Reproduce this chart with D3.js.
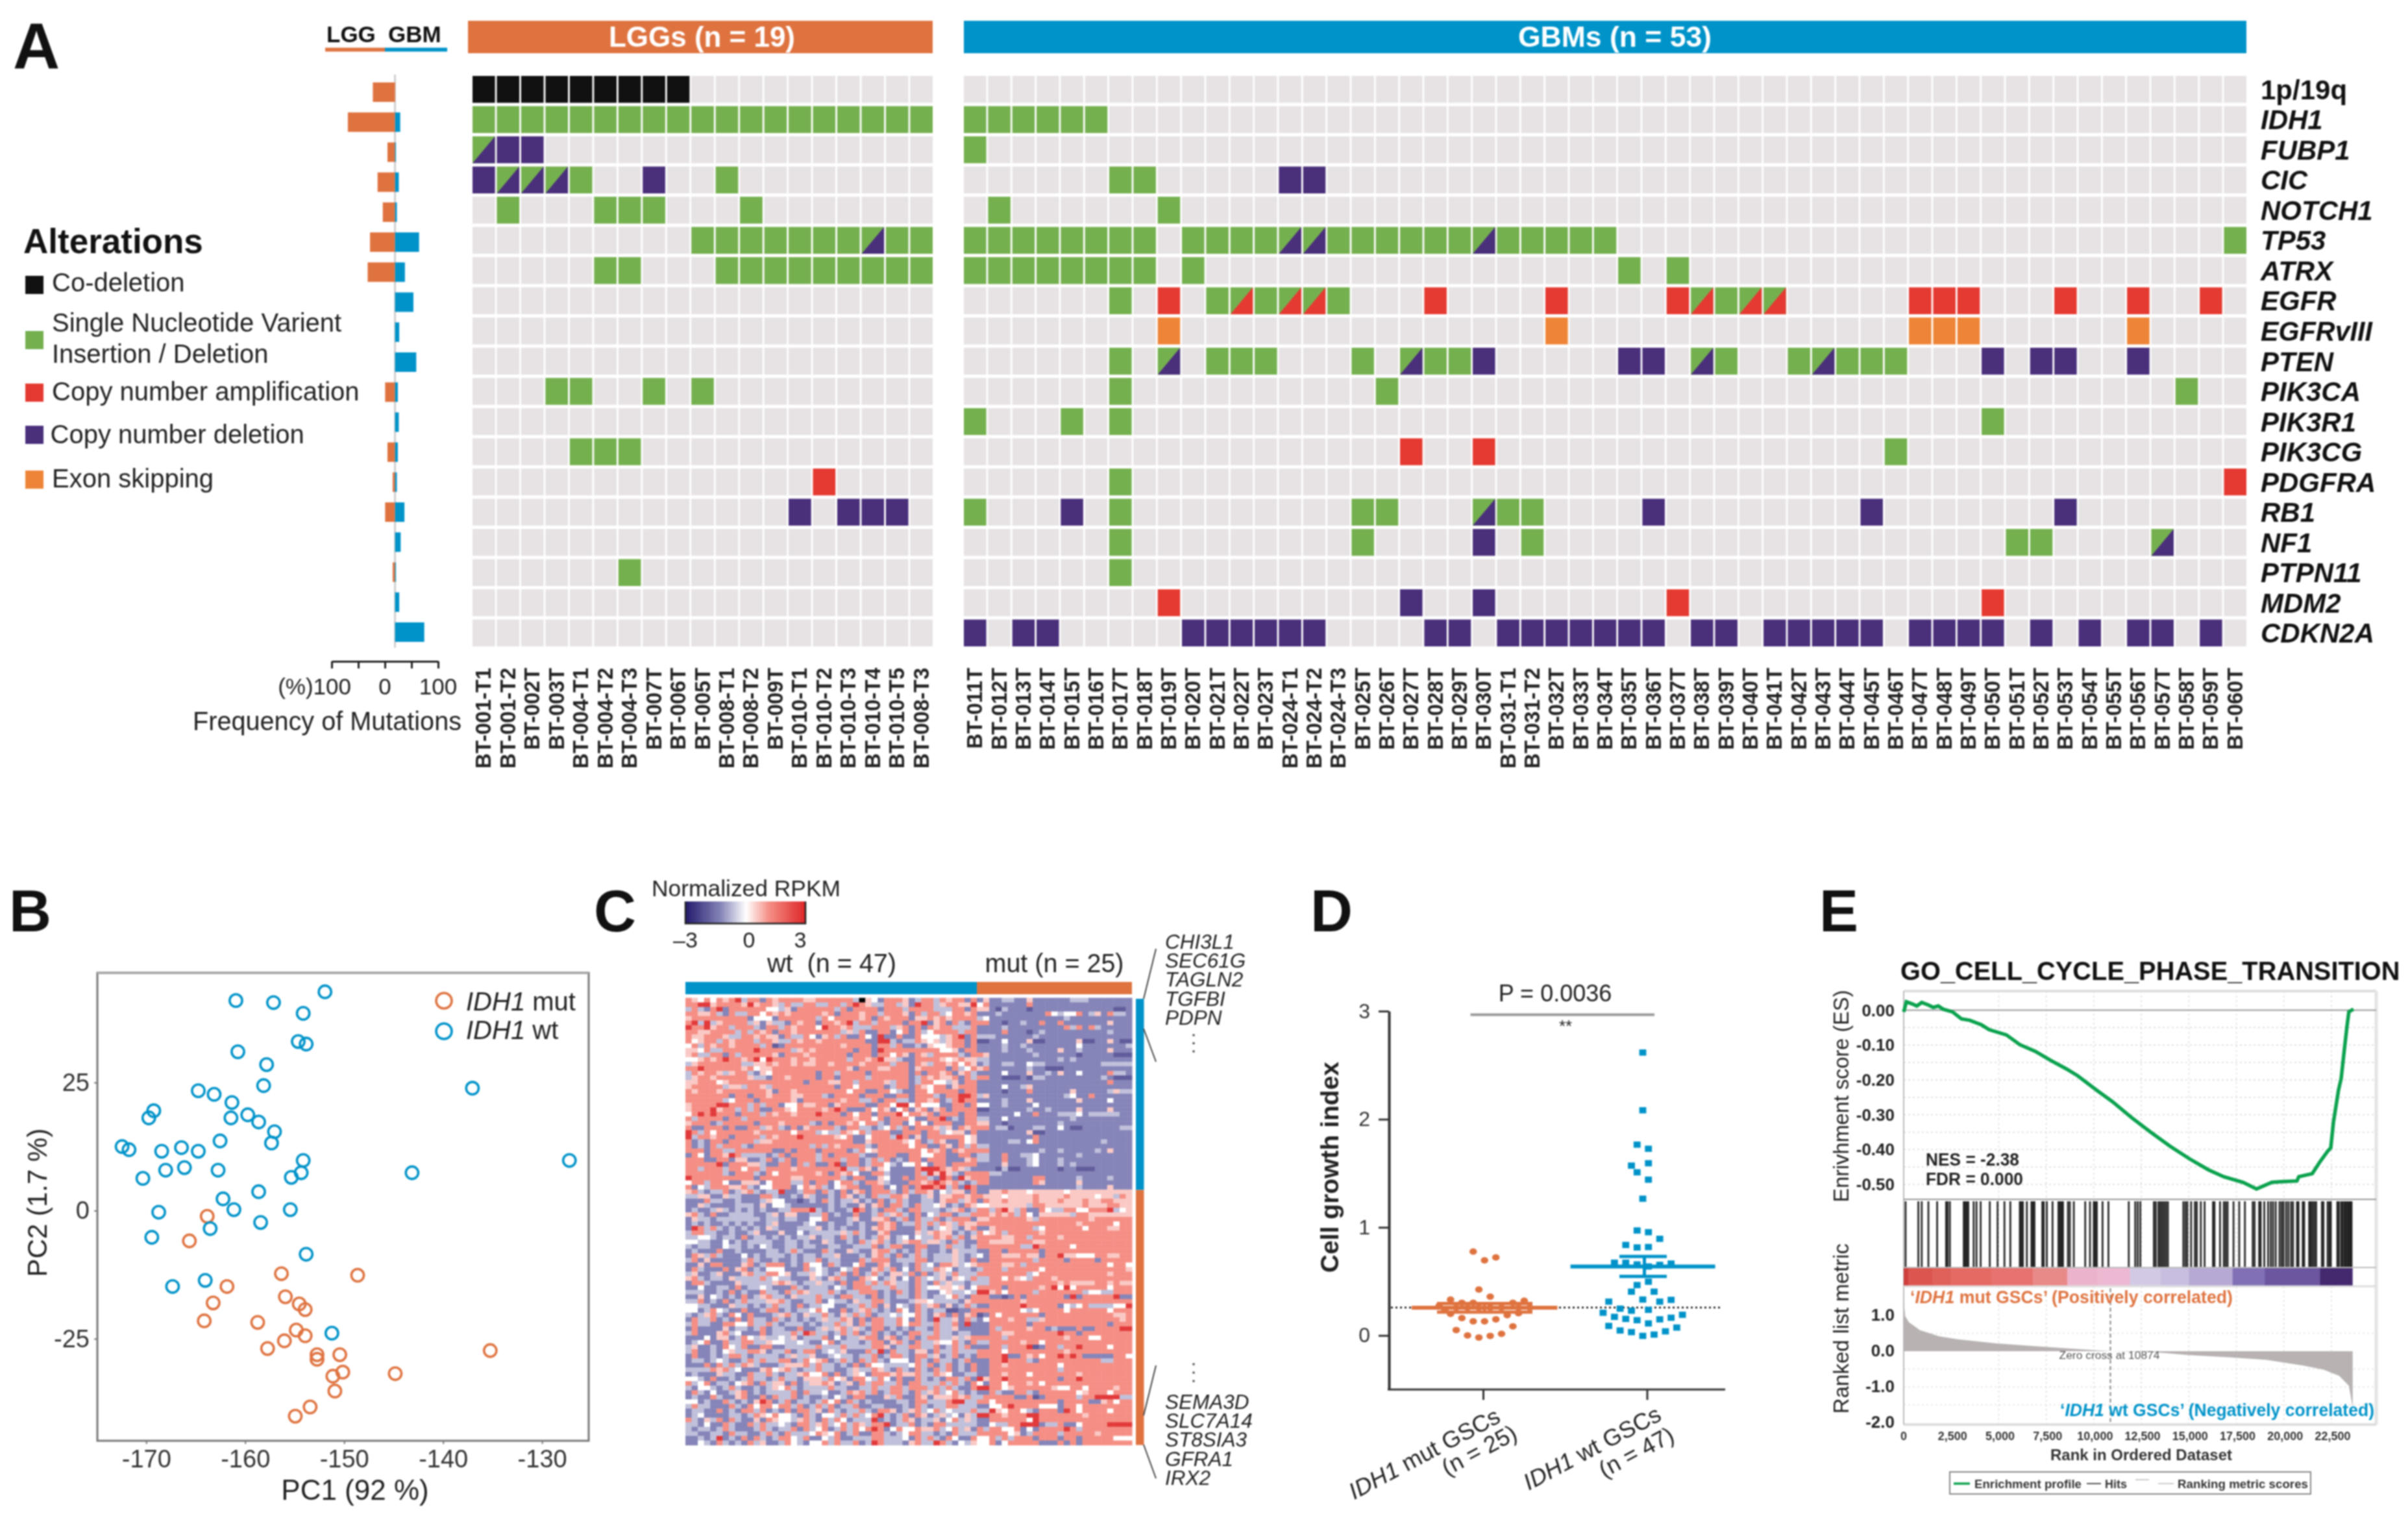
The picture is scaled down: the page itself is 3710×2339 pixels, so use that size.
<!DOCTYPE html>
<html><head><meta charset="utf-8">
<script src="https://cdn.jsdelivr.net/npm/d3@7/dist/d3.min.js"></script>
<style>html,body{margin:0;padding:0;background:#fff}svg{display:block;filter:blur(1px)}text{font-family:"Liberation Sans",Arial,sans-serif;fill:#222}</style>
</head><body><script>
// ---------- Panel A data ----------
const genes=["1p/19q","IDH1","FUBP1","CIC","NOTCH1","TP53","ATRX","EGFR","EGFRvIII","PTEN","PIK3CA","PIK3R1","PIK3CG","PDGFRA","RB1","NF1","PTPN11","MDM2","CDKN2A"];
const lggSamples=["BT-001-T1","BT-001-T2","BT-002T","BT-003T","BT-004-T1","BT-004-T2","BT-004-T3","BT-007T","BT-006T","BT-005T","BT-008-T1","BT-008-T2","BT-009T","BT-010-T1","BT-010-T2","BT-010-T3","BT-010-T4","BT-010-T5","BT-008-T3"];
const gbmSamples=["BT-011T","BT-012T","BT-013T","BT-014T","BT-015T","BT-016T","BT-017T","BT-018T","BT-019T","BT-020T","BT-021T","BT-022T","BT-023T","BT-024-T1","BT-024-T2","BT-024-T3","BT-025T","BT-026T","BT-027T","BT-028T","BT-029T","BT-030T","BT-031-T1","BT-031-T2","BT-032T","BT-033T","BT-034T","BT-035T","BT-036T","BT-037T","BT-038T","BT-039T","BT-040T","BT-041T","BT-042T","BT-043T","BT-044T","BT-045T","BT-046T","BT-047T","BT-048T","BT-049T","BT-050T","BT-051T","BT-052T","BT-053T","BT-054T","BT-055T","BT-056T","BT-057T","BT-058T","BT-059T","BT-060T"];
// B co-deletion, S SNV/indel, A amplification, D deletion, E exon skipping, G SNV+deletion, R SNV+amplification
const lggAlterations=[
"BBBBBBBBB..........","SSSSSSSSSSSSSSSSSSS","GDD................","DGGGS..D..S........",".S...SSS...S.......",".........SSSSSSSGSS",".....SS...SSSSSSSSS","...................","...................","...................","...SS..S.S.........","...................","....SSS............","..............A....",".............D.DDD.","...................","......S............","...................","..................."];
const gbmAlterations=[
".....................................................",
"SSSSSS...............................................",
"S....................................................",
"......SS.....DD......................................",
".S......S............................................",
"SSSSSSSS.SSSSGGSSSSSSGSSSSS.........................S",
"SSSSSSSS.S.................S.S.......................",
"......S.A.SRSRRS...A....A....ARSRR.....AAA...A..A..A.",
"........E...............E..............EEE......E.....",
"......S.G.SSS...S.GSSD.....DD.GS..SGSSS...D.DD..D....",
"......S..........S................................S..",
"S...S.S...................................S..........",
"..................A..A................S..............",
"......S.............................................A",
"S...D.S.........SS...GSS....D........D.......D.......",
"......S.........S....D.S...................SS....G...",
"......S..............................................",
"........A.........D..D.......A............A..........",
"D.DD.....DDDDDD....DD.DDDDDDD.DD.DDDDD.DDDD.D.D.DD.D."];
const freqLGG=[47,100,16,37,26,53,58,0,0,0,21,0,16,5,21,0,5,0,0];
const freqGBM=[0,11,2,8,4,51,21,39,9,45,6,8,6,4,20,12,2,9,62];
const freqTicks=[-100,-50,0,50,100];
const legendItems=[["Co-deletion","#111111"],["Single Nucleotide Varient|Insertion / Deletion","#75B04F"],["Copy number amplification","#E53A32"],["Copy number deletion","#4A2F7B"],["Exon skipping","#EE8437"]];
// ---------- Panel B data (PC1, PC2) ----------
const pcaWt=[[-161.2,41],[-157.4,40.6],[-152.2,42.7],[-154.4,38.5],[-154.9,33],[-154.1,32.5],[-161,31],[-158.1,28.5],[-158.4,24.4],[-165,23.4],[-163.4,22.7],[-161.6,21.1],[-169.5,19.5],[-170,18.1],[-161.7,18.1],[-160,18.7],[-158.9,17.3],[-157.3,15.4],[-157.6,13.2],[-162.8,13.6],[-172.7,12.5],[-172,11.9],[-168.7,11.6],[-166.7,12.3],[-165,11.6],[-168.3,7.9],[-166.4,8.4],[-163,7.9],[-170.6,6.3],[-154.4,9.8],[-154.6,7.4],[-155.6,6.5],[-158.9,3.7],[-162.5,2.3],[-161.4,0.2],[-155.7,0.2],[-169,-0.3],[-158.7,-2.3],[-163.8,-3.5],[-169.7,-5.2],[-154.1,-8.5],[-164.3,-13.6],[-167.6,-14.8],[-151.5,-23.9],[-137.3,23.9],[-143.4,7.4],[-127.5,9.8]];
const pcaMut=[[-164.1,-1.1],[-165.9,-5.9],[-156.6,-12.3],[-148.9,-12.6],[-162.1,-14.8],[-156.2,-16.8],[-163.5,-18],[-154.8,-18.2],[-154.2,-19.3],[-164.4,-21.5],[-159,-21.8],[-155.1,-23.3],[-154.2,-24.4],[-156.3,-25.4],[-158,-26.9],[-153,-28.1],[-153,-29],[-150.7,-28.1],[-150.4,-31.5],[-151.4,-32.3],[-145.1,-31.8],[-135.5,-27.3],[-151.2,-35.2],[-153.7,-38.3],[-155.2,-40.1]];
// ---------- Panel C data ----------
// Hand estimates: quadrants and visible stripes follow the reference, single cells are approximate.
// Each character is a colour level, see heatLevels.
const heatLevels=[-1.9,-1.25,-0.65,0,0.55,1.15,2.6];
const heatTopLeft=[
"54353545625515455554455555528431555412552545515",
"55664555546455425225522552565422552416552455446",
"25215615555553324155555525155551555255552225515",
"55445215225535454555554515554552555415255235545",
"45555555551333155555525355554515455514454545555",
"56262455552414221545515545625525555155614515215",
"65564552555215525455536554522255524515154552225",
"55445555252545155455555552425115513515235555255",
"54455542255454415225314525115316115115333245615",
"53455254555255422545545555555116621225434245515",
"35254554555525015555555554555515525112143345515",
"44352255555655555245455555515516555555555334155",
"45225515255555415554555555155515535415425555215",
"33454565545636555455455555255456442115555434544",
"24555555522445455454455455554555525515425545354",
"55655555545344555555555555415554455514555515235",
"25455424552143555555515525555155555515155451452",
"24554555554221554555515515555255555512545445152",
"44555345555555555551555445525555425512553324155",
"45555524425542555555555515535555125515435514555",
"54555455555554155455555555355115532115535555155",
"55555551551554555445552155551555115515552155665",
"55555523555155555415555554552251552215545125655",
"45555665552525513354455145555115536635333115515",
"45556455252511554355554565111535413514514515555",
"35656555155525455455565551535515556355451555155",
"52555515525555555555555555545535155531155612155",
"45551255555155545555215155453552155135315551155",
"51155515115524521514555521552212352515554241545",
"65253555555455555355523225435255511555155234415",
"62554551555525455565555543511355526514155555534",
"51215515555244555555555555511455555435125411534",
"51215255521555555555252545555215555535511541525",
"55515522555555115155515555125345555555354515455",
"15315546522221251555525155552115551155335511551",
"55511551441125125155525552551252512155155511145",
"55555615554421155152511561551255321335315515555",
"55255525535525555455555556225414311115666545421",
"55555521555215355555545154531155211115264642155",
"65555555555155555445555552155114311515521651645",
"35525531144413555225155135521554211155456545212",
"51325554452133555135452134551155131515665625165"];
const heatBottomLeft=[
"45212251245212261125515215145155521525541324415",
"22441142211155211214211215412152255411241445545",
"11152211211124331101215212241215125211221455245",
"11421111222141332111111212114145155215223412154",
"12112421212121122555621211265121552155222124512",
"45215112222112414411225121151125245215132551225",
"14221222222212212211335111241144512515225125551",
"12121121212112411112311211212115451225252542544",
"16525212121214211122241212112145451115212342145",
"25522112112411141131222224252114511114245441212",
"22332122151221212122412215212125412313225452514",
"33221131212222112212114211215245212455244215211",
"21221132212132112212211221122251255115511252212",
"12111511211112212521115211421145521215211214222",
"15425211131212221212212241112145215125212224212",
"25141111125211211212251221115255512225512224215",
"11415511145125551215331521135115411215231554234",
"15211151451213331115232113251145251315225431221",
"24112411145225534122432125151252144251512425222",
"45212214222252322111421452115431241315232414325",
"15521111422222454212242215155252542215215242212",
"11311221512232111521222132155522252215233443413",
"22211215121152215254222521225551215215211342232",
"11413212151245221422252215522151212215212235215",
"22512151252224452112251322142255211124432222145",
"33221114221212522151223311225251413215245141252",
"33125321151125512122353115124521215315212200115",
"21245215315111245214225214252512232335214515145",
"15225121515221521212124225415155225315216224152",
"25221155335225212221212252415255225355225225161",
"15111141221251221151124245242155121212215224111",
"25111452311151222526522125251251212155225221221",
"11131441253242232412225131224551451251255224245",
"12351152255224332232113512221255145215224335215",
"24112153251155112222252225222255412255225125251",
"25112134225541225125512324111526152214415225222",
"15112125521222212422411232212251255215524125121",
"12212321125252255125345125215252133315215221251",
"11151525254211124445252212151533222235251251215",
"22225452311145345212252211242254215215215251215",
"12111422115225212245335151243155545445225431122",
"33215112125221252214442534155325315115212155251",
"52351221345152441512445412415255225155222525215",
"21332125211212435212222522112252255255525252115",
"15213112451212222515223112545251255215245235212",
"12115211451151522512112132155111425115414445452",
"33121152121465125122125351521211112215522256622",
"25221115215355355251252512251122111215212255222",
"12211512155251215155241521225215541245235232225",
"12311112212543533215213325252356212515412423142",
"52142515211415433245215253122261212541224135242",
"22131152115252232155245235254255612251215522222",
"21221252111252122515235125253565135335445235241",
"22112215221125215222354351251155212355221215222",
"11212612151521255325113251122255222315252153115",
"11321521215241125321335252251265222145226521324"];
const heatTopRight=[
"1411221141111112221111111","3511111151111111111111111","4410211101111111111111001","1112111111153233512415221",
"2311111111111121111111111","5511011211511511111114111","1111211111111152515211111","1111511101211111111112111",
"2221111112111111111111111","0011311140011111400114100","1111211211111111311111112","1111211121111411211114111",
"5411111112111111011111000","2211111111111212111111111","1211221132211111111122222","4511111121100011111111111",
"1111311141121411311115221","5511000102211111111121000","1111111111111111111115111","1111311241111111111111111",
"1111011151111114111112422","2411111111111123115111111","1111211141111111411113111","3311211113111111111111111",
"0011111121121111411114111","1111113115111222312222211","2211311111111112111111111","4411011111111211111111111",
"5512201112211310011111122","1111111140011111111111111","1111111115111111111111111","1111122135111111111121111",
"2211111111111111111111111","5511111111211211111214111","2211511223111111211111111","2211511123111211111111111",
"1111411123111212111111111","1110200111111011000111111","5522111111111111111111111","5511111115511111211112111",
"5511111115411111411111111","1111111111111111211114111"];
const heatBottomRight=[
"1144544434444434444444444","5444344445444454444344254","1544544445444544454455444","3344444425544444454445544",
"5525642511532255335556234","5545452531444442554444444","4455555542555555554555555","5555555555555555455555355",
"1145555552355555535554455","5345255555455555555555555","5555445525555455555555555","5544445554455555555555555",
"5555555226555553555555555","1155155555155555555555555","3155444544155644333554455","1155555552555515555155555",
"5555445255555555555553553","2555255555355555555555554","5555555523555555555554555","2255354325554555555555555",
"2255555555555454444554544","5555155555456363555553555","6645355552555555523322555","5511015155555516155555611",
"5555555455555555555555555","1155555655555132352222336","5555555323555535555553555","0153555555155555555555445",
"1355545522455555555555545","1155555515555555555551555","1152555545512111511555566","1155445555555655155555555",
"5555255555555545553355555","2255555455355555555555555","1155255560155255655553555","5555355555555545555555555",
"5555611545355656511111553","1155655521555555555522555","1155455555555355555555555","1155555555555255555555555",
"1155455535555555455555555","6455655555555155655555555","3155355545355555555555555","6655345555554335535555455",
"1152115521555555345553555","2555551150155555255666622","5535555555555155551145355","1133565555333155355555555",
"2264355321555165355553555","6655455566555555545555555","1155555536555555555555555","1132255666122511355556666",
"5255335131555565255555555","5555534125555255555455555","3352525551555155155555333","3351355555111515155555555"];
const genesTop=["CHI3L1","SEC61G","TAGLN2","TGFBI","PDPN"];
const genesBottom=["SEMA3D","SLC7A14","ST8SIA3","GFRA1","IRX2"];
// ---------- Panel D data: [swarm column, growth index] ----------
const growthMut=[[-1,.776],[1,.695],[3,.722],[0,.424],[2,.359],[-5,.332],[-3,.302],[-1,.302],[6,.302],[8,.321],[-7,.275],[-6,.237],[-4,.256],[-2,.256],[0,.256],[2,.256],[4,.256],[7,.256],[9,.256],[-5,.199],[5,.187],[7,.206],[-3,.16],[-1,.13],[1,.13],[3,.149],[6,.084],[-4,.05],[-2,0],[0,-.019],[2,-.004],[4,.015]];
const growthWt=[[0,2.617],[0,2.083],[-1,1.765],[1,1.727],[1,1.593],[-2,1.571],[-1,1.509],[1,1.441],[0,1.265],[-1,.971],[1,.955],[3,.894],[-3,.837],[-1,.814],[1,.818],[-5,.673],[-3,.673],[-1,.657],[3,.653],[5,.665],[1,.638],[-1,.466],[1,.497],[-2,.405],[2,.405],[-6,.313],[0,.332],[3,.313],[5,.329],[-4,.248],[-2,.229],[1,.237],[-7,.21],[-5,.172],[-3,.153],[-1,.141],[3,.149],[5,.164],[7,.191],[1,.111],[-6,.088],[-4,.046],[-2,.031],[6,.073],[4,.038],[0,-.004],[2,.008]];
const growthSummary=[{mean:.256,sem:.04},{mean:.638,sem:.092}];
const growthRef=.258;
// ---------- Panel E data ----------
const esCurve=[[0,-.005],[142,.024],[445,.018],[688,.012],[951,.022],[1295,.015],[1559,.008],[1822,.012],[2064,.003],[2570,-.005],[3036,-.025],[3481,-.029],[4088,-.042],[4493,-.056],[5404,-.071],[6112,-.099],[6922,-.118],[7732,-.144],[8541,-.168],[9148,-.188],[10160,-.23],[10970,-.262],[11982,-.308],[12994,-.35],[14006,-.39],[15018,-.426],[16030,-.458],[16840,-.478],[17852,-.494],[18560,-.513],[19370,-.494],[19876,-.492],[20685,-.49],[20786,-.478],[21495,-.469],[21900,-.435],[22300,-.405],[22466,-.395],[22608,-.321],[22871,-.23],[23013,-.196],[23175,-.116],[23316,-.048],[23417,-.005],[23660,.003]];
const hits=[100,770,950,1300,1760,2230,2310,2430,3160,3240,3320,3400,3680,3830,4050,4530,4940,5300,5610,6110,6190,6270,6480,6720,6800,6880,7290,7370,7530,7830,8140,8220,8300,8380,8640,8740,8950,9550,9800,10000,10080,10160,10460,10770,11840,12180,12310,12450,13160,13260,13400,13500,13600,13700,13800,13900,14710,14820,14920,15120,15320,15420,15630,15830,16270,16350,16640,16840,16940,17040,17350,17650,17950,18360,18460,18700,18780,18970,19170,19310,19430,19570,19770,19880,19980,20120,20240,20380,20480,20690,20770,20990,21070,21330,21410,21500,21600,21700,22000,22080,22300,22390,22470,22810,22890,23010,23090,23180,23260,23340,23420,23500,23560];
const metric=[[0,1.42],[80,.98],[280,.81],[850,.59],[1860,.42],[2870,.33],[4900,.22],[6920,.14],[8950,.07],[10874,0],[12990,-.02],[15020,-.11],[17040,-.17],[19070,-.24],[21090,-.41],[22100,-.52],[22910,-.69],[23420,-.97],[23620,-1.58]];
const rampBands=[[0,250,"#CF3F3D"],[250,1500,"#DC5650"],[1500,2500,"#E0605A"],[2500,4600,"#E46A63"],[4600,6800,"#E67370"],[6800,8600,"#E88A88"],[8600,10200,"#ECB4CC"],[10200,11900,"#EDB9D2"],[11900,13500,"#D2CAE4"],[13500,15000,"#C8BFE0"],[15000,17300,"#B6AAD4"],[17300,19000,"#8170B5"],[19000,21900,"#6B569F"],[21900,23600,"#44296F"]];
const rankTicks=[0,2500,5000,7500,10000,12500,15000,17500,20000,22500];
const esTicks=[0,-.1,-.2,-.3,-.4,-.5];
const metricTicks=[1,0,-1,-2];

// ---------- Drawing ----------
const ORANGE="#DF7340",BLUE="#0093C9",CELL="#E7E3E5",GREEN="#75B04F",PURPLE="#4A2F7B",RED="#E53A32";
const colorOf={B:"#111111",S:GREEN,A:RED,D:PURPLE,E:"#EE8437",G:GREEN,R:GREEN};
const svg=d3.select("body").append("svg").attr("width",3710).attr("height",2339).attr("viewBox","0 0 3710 2339");
function label(parent,x,y,parts,size,o={}){
  const el=parent.append("text").attr("x",x).attr("y",y).attr("font-size",size).attr("text-anchor",o.anchor||"start")
    .attr("font-weight",o.weight||"normal").attr("font-style",o.style||"normal").style("fill",o.fill||"#222");
  if(o.rotate!==undefined) el.attr("transform",`rotate(${o.rotate},${x},${y})`);
  if(o.textLength) el.attr("textLength",o.textLength).attr("lengthAdjust","spacingAndGlyphs");
  (Array.isArray(parts)?parts:[parts]).forEach(p=>{
    if(typeof p==="string") el.append("tspan").attr("xml:space","preserve").text(p);
    else el.append("tspan").attr("font-style",p.style).text(p.text);
  });
  return el;
}
// Panel letters
[["A",20,106,100],["B",14,1435,90],["C",915,1435,90],["D",2019,1435,90],["E",2803,1435,90]].forEach(d=>label(svg,d[1],d[2],d[0],d[3],{weight:"bold",fill:"#111"}));

// ----- A -----
const A=svg.append("g");
const yGene=d3.scaleBand().domain(genes).range([117,996]).paddingInner(.11);
function oncoplot(samples,alts,x0,x1,title,color){
  const x=d3.scaleBand().domain(samples).range([x0,x1]).paddingInner(.075);
  const g=A.append("g");
  g.append("rect").attr("x",x0-(title[0]==="L"?7:0)).attr("y",32).attr("width",x1-x0+(title[0]==="L"?7:0)).attr("height",50).attr("fill",color);
  label(g,(x0+x1)/2-(title[0]==="L"?1:-15),72,title,45,{anchor:"middle",weight:"bold",fill:"#fff",textLength:title[0]==="L"?287:298});
  genes.forEach((gene,r)=>{
    samples.forEach((s,c)=>{
      const k=alts[r][c];
      const px=x(s),py=yGene(gene),w=x.bandwidth(),h=yGene.bandwidth();
      g.append("rect").attr("x",px).attr("y",py).attr("width",w).attr("height",h).attr("fill",k==="."?CELL:colorOf[k]);
      if(k==="G"||k==="R") g.append("path").attr("d",`M${px+w},${py}L${px+w},${py+h}L${px},${py+h}Z`).attr("fill",k==="G"?PURPLE:RED);
    });
  });
  samples.forEach(s=>{
    const cx=x(s)+x.bandwidth()/2+11;
    label(g,cx,1029,s,32.5,{anchor:"end",rotate:-90,weight:"bold"});
  });
}
oncoplot(lggSamples,lggAlterations,728,1437,"LGGs (n = 19)",ORANGE);
oncoplot(gbmSamples,gbmAlterations,1485,3461,"GBMs (n = 53)",BLUE);
genes.forEach(g=>label(A,3483,yGene(g)+yGene.bandwidth()/2+15,g,42,{weight:"bold",style:g==="1p/19q"?"normal":"italic",fill:"#111",textLength:g==="EGFRvIII"?172:undefined}));
// frequency bars
const xFreq=d3.scaleLinear().domain([-100,100]).range([608.6-72.7,608.6+72.7]);
const yFreq=d3.scalePoint().domain(genes).range([142,974]);
A.append("line").attr("x1",608.6).attr("x2",608.6).attr("y1",115).attr("y2",998).attr("stroke","#cfcfcf").attr("stroke-width",3);
genes.forEach((g,i)=>{
  if(freqLGG[i]) A.append("rect").attr("x",xFreq(-freqLGG[i])).attr("y",yFreq(g)-15).attr("width",xFreq(0)-xFreq(-freqLGG[i])).attr("height",30).attr("fill",ORANGE);
  if(freqGBM[i]) A.append("rect").attr("x",xFreq(0)).attr("y",yFreq(g)-15).attr("width",xFreq(freqGBM[i])-xFreq(0)).attr("height",30).attr("fill",BLUE);
});
const xFreqAxis=d3.scaleLinear().domain([-100,100]).range([511,675]);
const axF=A.append("g").attr("transform","translate(0,1019)").call(d3.axisBottom(xFreqAxis).tickValues(freqTicks).tickSize(11).tickSizeOuter(0).tickFormat(""));
axF.selectAll("path,line").attr("stroke","#222").attr("stroke-width",3);
label(A,541,1070,"(%)100",35,{anchor:"end"});label(A,xFreqAxis(0),1070,"0",35,{anchor:"middle"});label(A,xFreqAxis(100),1070,"100",35,{anchor:"middle"});
label(A,297,1125,"Frequency of Mutations",40,{textLength:414});
label(A,503,65,"LGG",35,{weight:"bold",fill:"#111"});label(A,598,65,"GBM",35,{weight:"bold",fill:"#111"});
A.append("rect").attr("x",501).attr("y",73.5).attr("width",92).attr("height",6).attr("fill",ORANGE);
A.append("rect").attr("x",593).attr("y",73.5).attr("width",96).attr("height",6).attr("fill",BLUE);
label(A,36,390,"Alterations",53,{weight:"bold",fill:"#111"});
const legTop=[425,510,591,656,725],legText=[[80,449],[80,511],[80,617],[77.5,682.5],[80,751]];
legendItems.forEach((it,i)=>{
  A.append("rect").attr("x",39).attr("y",legTop[i]).attr("width",28).attr("height",28).attr("fill",it[1]);
  it[0].split("|").forEach((s,j)=>label(A,legText[i][0],legText[i][1]+j*47.5,s,40));
});

// ----- B -----
const B=svg.append("g");
const xB=d3.scaleLinear().domain([-175.2,-125.55]).range([150,907]);
const yB=d3.scaleLinear().domain([-44.9,46.4]).range([2220,1499]);
B.append("rect").attr("x",150).attr("y",1499).attr("width",757).attr("height",721).attr("fill","none").attr("stroke","#777").attr("stroke-width",3);
B.append("line").attr("x1",150).attr("x2",907).attr("y1",1499).attr("y2",1499).attr("stroke","#aaa").attr("stroke-width",4);
const axBx=B.append("g").attr("transform","translate(-4,2220)").call(d3.axisBottom(xB).tickValues([-170,-160,-150,-140,-130]).tickSize(5).tickSizeOuter(0).tickPadding(9).tickFormat(String));
const axBy=B.append("g").attr("transform","translate(150,0)").call(d3.axisLeft(yB).tickValues([25,0,-25]).tickSize(5).tickSizeOuter(0).tickPadding(7).tickFormat(String));
[axBx,axBy].forEach(a=>{a.select("path").remove();a.selectAll("line").attr("stroke","#777").attr("stroke-width",2);a.selectAll("text").attr("font-size",38).attr("font-family",null).style("fill","#333");});
const rings=(data,color)=>B.append("g").selectAll("circle").data(data).join("circle").attr("cx",d=>xB(d[0])).attr("cy",d=>yB(d[1])).attr("r",9.6).attr("fill","none").attr("stroke",color).attr("stroke-width",3.6);
rings(pcaMut,ORANGE);rings(pcaWt,BLUE);
[[1542,ORANGE,1556.5," mut"],[1589,BLUE,1601," wt"]].forEach(d=>{
  B.append("circle").attr("cx",684).attr("cy",d[0]).attr("r",12).attr("fill","none").attr("stroke",d[1]).attr("stroke-width",3.6);
  label(B,718,d[2],[{text:"IDH1",style:"italic"},d[3]],40,{fill:"#222"});
});
label(B,547,2311,"PC1 (92 %)",44,{anchor:"middle"});
label(B,72,1853,"PC2 (1.7 %)",42,{anchor:"middle",rotate:-90});

// ----- C -----
const C=svg.append("g");
const heatColor=d3.scaleLinear().domain([-3,-1.25,0,1.15,3]).range(["#231A6B","#8585B9","#FFFFFF","#F58F85","#DD2226"]);
const rowsAll=[...heatTopLeft.map((s,i)=>s.padEnd(47,"5").slice(0,47)+heatTopRight[i]),...heatBottomLeft.map((s,i)=>s.padEnd(47,"1").slice(0,47)+heatBottomRight[i])];
const xH=d3.scaleBand().domain(d3.range(72)).range([1056,1744]);
const yH=d3.scaleBand().domain(d3.range(rowsAll.length)).range([1537.5,2226.6]);
rowsAll.forEach((row,r)=>{
  C.append("g").selectAll("rect").data(row.split("")).join("rect").attr("x",(d,i)=>xH(i)).attr("y",yH(r)).attr("width",xH.bandwidth()+.5).attr("height",yH.bandwidth()+.5).attr("fill",d=>heatColor(heatLevels[+d]));
});
C.append("rect").attr("x",1056).attr("y",1513).attr("width",449).attr("height",19).attr("fill",BLUE);
C.append("rect").attr("x",1505).attr("y",1513).attr("width",239).attr("height",19).attr("fill",ORANGE);
C.append("rect").attr("x",1750).attr("y",1539).attr("width",12.5).attr("height",294.5).attr("fill",BLUE);
C.append("rect").attr("x",1750).attr("y",1833.5).attr("width",12.5).attr("height",393).attr("fill",ORANGE);
const xBar=d3.scaleLinear().domain([-3,3]).range([1056,1241]);
C.append("g").selectAll("rect").data(d3.range(-3,3,.05)).join("rect").attr("x",d=>xBar(d)).attr("y",1389).attr("width",xBar(.05)-xBar(0)+.6).attr("height",34).attr("fill",d=>heatColor(d));
C.append("path").attr("d","M1056,1389V1423H1241V1389").attr("fill","none").attr("stroke","#222").attr("stroke-width",2.5);
label(C,1004,1381,"Normalized RPKM",35,{textLength:291});
[["–3",1056],["0",1154],["3",1233]].forEach(d=>label(C,d[1],1460,d[0],34,{anchor:"middle"}));
label(C,1182,1498,"wt\u00a0\u00a0(n = 47)",40,{textLength:199});
label(C,1517.5,1498,"mut (n = 25)",40,{textLength:214});
genesTop.forEach((g,i)=>label(C,1795,1462+i*29.2,g,31.5,{style:"italic",fill:"#222"}));
genesBottom.forEach((g,i)=>label(C,1795,2171+i*29.2,g,31.5,{style:"italic",fill:"#222"}));
[1595,1607.5,1620,2102,2115,2128].forEach(y=>C.append("circle").attr("cx",1839).attr("cy",y).attr("r",1.8).attr("fill","#444"));
["M1781,1462L1762,1539","M1762,1585L1781,1636","M1781,2104L1762,2181","M1762,2226L1781,2278"].forEach(d=>C.append("path").attr("d",d).attr("fill","none").attr("stroke","#444").attr("stroke-width",2));

// ----- D -----
const D=svg.append("g");
const yD=d3.scaleLinear().domain([-.5,3]).range([2141,1558]);
const xD=d3.scaleLinear().domain([0,1]).range([2278.5,2531]);
const swarm=8.73;
const axY=D.append("g").attr("transform","translate(2140,0)").call(d3.axisLeft(yD).tickValues([0,1,2,3]).tickSize(16).tickSizeOuter(0).tickPadding(13).tickFormat(String));
axY.select("path").attr("stroke","#333").attr("stroke-width",4);axY.selectAll("line").attr("stroke","#333").attr("stroke-width",3);
axY.selectAll("text").attr("font-size",32).attr("font-family",null).style("fill","#333");
D.append("line").attr("x1",2138).attr("x2",2658).attr("y1",2141).attr("y2",2141).attr("stroke","#333").attr("stroke-width",3);
[0,1].forEach(i=>D.append("line").attr("x1",xD(i)+7).attr("x2",xD(i)+7).attr("y1",2141).attr("y2",2157).attr("stroke","#333").attr("stroke-width",3));
D.append("line").attr("x1",2143).attr("x2",2653).attr("y1",yD(growthRef)).attr("y2",yD(growthRef)).attr("stroke","#111").attr("stroke-width",2.5).attr("stroke-dasharray","3 4");
D.append("g").selectAll("ellipse").data(growthMut).join("ellipse").attr("cx",d=>xD(0)+d[0]*swarm).attr("cy",d=>yD(d[1])).attr("rx",5.8).attr("ry",5).attr("fill",ORANGE);
D.append("g").selectAll("rect").data(growthWt).join("rect").attr("x",d=>xD(1)+d[0]*swarm-5.4).attr("y",d=>yD(d[1])-4.8).attr("width",10.8).attr("height",9.6).attr("fill",BLUE);
const sumGeo=[{c:ORANGE,x1:2175,x2:2399.5,cx1:2214,cx2:2361,vx:2287},{c:BLUE,x1:2419.6,x2:2642.6,cx1:2495,cx2:2568,vx:2533.5}];
growthSummary.forEach((s,i)=>{
  const g=sumGeo[i];
  D.append("line").attr("x1",g.x1).attr("x2",g.x2).attr("y1",yD(s.mean)).attr("y2",yD(s.mean)).attr("stroke",g.c).attr("stroke-width",6);
  [s.mean-s.sem,s.mean+s.sem].forEach(v=>D.append("line").attr("x1",g.cx1).attr("x2",g.cx2).attr("y1",yD(v)).attr("y2",yD(v)).attr("stroke",g.c).attr("stroke-width",5));
  D.append("line").attr("x1",g.vx).attr("x2",g.vx).attr("y1",yD(s.mean-s.sem)).attr("y2",yD(s.mean+s.sem)).attr("stroke",g.c).attr("stroke-width",5);
});
label(D,2062,1798.5,"Cell growth index",39,{anchor:"middle",rotate:-90,weight:"bold"});
label(D,2396,1542.5,"P = 0.0036",36,{anchor:"middle"});
D.append("line").attr("x1",2265.5).attr("x2",2549).attr("y1",1563.6).attr("y2",1563.6).attr("stroke","#999").attr("stroke-width",4);
label(D,2412,1590,"**",26,{anchor:"middle"});
label(D,2314,2190,[{text:"IDH1",style:"italic"}," mut GSCs"],36,{anchor:"end",rotate:-28});
label(D,2340,2216,"(n = 25)",36,{anchor:"end",rotate:-28});
label(D,2562,2187,[{text:"IDH1",style:"italic"}," wt GSCs"],36,{anchor:"end",rotate:-28});
label(D,2582,2219,"(n = 47)",36,{anchor:"end",rotate:-28});

// ----- E -----
const E=svg.append("g");
const xE=d3.scaleLinear().domain([0,22500]).range([2933,3592]);
const yES=d3.scaleLinear().domain([0,-.5]).range([1556.5,1825]);
const yM=d3.scaleLinear().domain([1,-2]).range([2027,2192]);
const FR={l:2933,r:3661,t:1527,b:2195};
label(E,2928,1510,"GO_CELL_CYCLE_PHASE_TRANSITION",39.8,{weight:"bold",fill:"#111"});
rankTicks.slice(2).forEach(v=>E.append("line").attr("x1",xE(v)).attr("x2",xE(v)).attr("y1",FR.t).attr("y2",FR.b).attr("stroke","#ddd").attr("stroke-width",1.5).attr("stroke-dasharray","3 4"));
d3.range(1,11).forEach(i=>{const v=-i*.05;E.append("line").attr("x1",FR.l).attr("x2",FR.r).attr("y1",yES(v)).attr("y2",yES(v)).attr("stroke","#d8d8d8").attr("stroke-width",1.5).attr("stroke-dasharray","3 4");});
[.5,-.5,-1,-1.5].forEach(v=>E.append("line").attr("x1",FR.l).attr("x2",FR.r).attr("y1",yM(v)).attr("y2",yM(v)).attr("stroke","#e2e2e2").attr("stroke-width",1.5).attr("stroke-dasharray","3 4"));
E.append("line").attr("x1",FR.l).attr("x2",FR.r).attr("y1",FR.t).attr("y2",FR.t).attr("stroke","#ddd").attr("stroke-width",4);
E.append("line").attr("x1",FR.r).attr("x2",FR.r).attr("y1",FR.t).attr("y2",FR.b).attr("stroke","#e4e4e4").attr("stroke-width",5);
E.append("line").attr("x1",FR.l).attr("x2",FR.r).attr("y1",FR.b).attr("y2",FR.b).attr("stroke","#ddd").attr("stroke-width",4);
E.append("line").attr("x1",FR.l).attr("x2",FR.l).attr("y1",FR.t).attr("y2",FR.b).attr("stroke","#bbb").attr("stroke-width",2);
E.append("line").attr("x1",FR.l).attr("x2",FR.r).attr("y1",yES(0)).attr("y2",yES(0)).attr("stroke","#999").attr("stroke-width",2);
E.append("line").attr("x1",FR.l).attr("x2",FR.r).attr("y1",1848).attr("y2",1848).attr("stroke","#999").attr("stroke-width",2);
E.append("path").datum(esCurve).attr("d",d3.line().x(d=>xE(d[0])).y(d=>yES(d[1]))).attr("fill","none").attr("stroke","#0BA24E").attr("stroke-width",5.5);
E.append("g").selectAll("line").data(hits).join("line").attr("x1",d=>xE(d)).attr("x2",d=>xE(d)).attr("y1",1851).attr("y2",1954).attr("stroke","#111").attr("stroke-width",2.8).attr("stroke-opacity",.9);
E.append("line").attr("x1",FR.l).attr("x2",FR.r).attr("y1",1953).attr("y2",1953).attr("stroke","#bbb").attr("stroke-width",2);
E.append("line").attr("x1",FR.l).attr("x2",FR.r).attr("y1",1982).attr("y2",1982).attr("stroke","#ddd").attr("stroke-width",3);
E.append("g").selectAll("rect").data(rampBands).join("rect").attr("x",d=>xE(d[0])).attr("y",1954).attr("width",d=>xE(d[1])-xE(d[0])+.5).attr("height",26.6).attr("fill",d=>d[2]);
E.append("path").datum(metric).attr("d",d3.area().x(d=>xE(d[0])).y0(yM(0)).y1(d=>yM(d[1]))).attr("fill","#B8B2B2");
E.append("line").attr("x1",xE(10874)).attr("x2",xE(10874)).attr("y1",1985).attr("y2",FR.b).attr("stroke","#777").attr("stroke-width",1.8).attr("stroke-dasharray","6 4");
label(E,3250,2094,"Zero cross at 10874",17,{anchor:"middle",textLength:155,fill:"#555"});
esTicks.forEach(v=>label(E,2919,yES(v)+9,v.toFixed(2),26,{anchor:"end",weight:"bold",fill:"#222"}));
metricTicks.forEach(v=>label(E,2919,yM(v)+8,v.toFixed(1),26,{anchor:"end",weight:"bold",fill:"#222"}));
rankTicks.forEach(v=>label(E,xE(v)+(v===0?0:2),2219,d3.format(",")(v),18,{anchor:"middle",weight:"bold",fill:"#333"}));
label(E,3299,2250,"Rank in Ordered Dataset",24,{anchor:"middle",weight:"bold",fill:"#333"});
label(E,2848,1689,"Enrivhment score (ES)",32.5,{anchor:"middle",rotate:-90});
label(E,2848,2047,"Ranked list metric",33,{anchor:"middle",rotate:-90});
label(E,2967,1796,"NES = -2.38",27,{weight:"bold",textLength:144});
label(E,2967,1826,"FDR = 0.000",27,{weight:"bold",textLength:150});
label(E,2943,2008,["\u2018",{text:"IDH1",style:"italic"}," mut GSCs\u2019 (Positively correlated)"],27,{fill:ORANGE,textLength:497,weight:"bold"});
label(E,3174,2182,["\u2018",{text:"IDH1",style:"italic"}," wt GSCs\u2019 (Negatively correlated)"],27,{fill:BLUE,textLength:484,weight:"bold"});
E.append("rect").attr("x",3004).attr("y",2268).attr("width",556).attr("height",34).attr("fill","#fff").attr("stroke","#888").attr("stroke-width",2);
E.append("line").attr("x1",3010).attr("x2",3035).attr("y1",2286).attr("y2",2286).attr("stroke","#0BA24E").attr("stroke-width",3.5);
E.append("line").attr("x1",3215).attr("x2",3237).attr("y1",2286).attr("y2",2286).attr("stroke","#555").attr("stroke-width",2);
E.append("line").attr("x1",3290).attr("x2",3311).attr("y1",2280).attr("y2",2280).attr("stroke","#ccc").attr("stroke-width",2);
E.append("line").attr("x1",3325).attr("x2",3349).attr("y1",2286).attr("y2",2286).attr("stroke","#ccc").attr("stroke-width",2);
label(E,3042,2292.5,"Enrichment profile",18,{weight:"bold",textLength:165,fill:"#333"});
label(E,3243,2292.5,"Hits",18,{weight:"bold",fill:"#333"});
label(E,3355,2292.5,"Ranking metric scores",18,{weight:"bold",textLength:201,fill:"#333"});
</script></body></html>
